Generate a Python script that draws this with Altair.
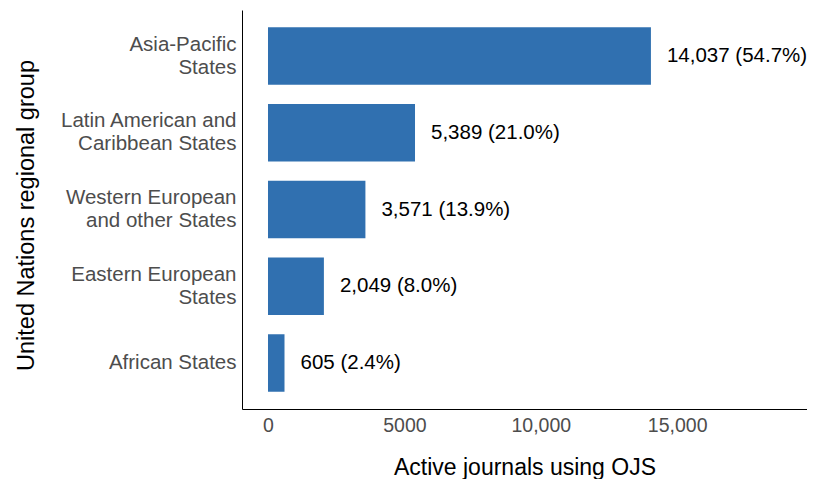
import altair as alt
import pandas as pd

groups = ["Asia-Pacific|States", "Latin American and|Caribbean States",
          "Western European|and other States", "Eastern European|States",
          "African States"]
journals = [14037, 5389, 3571, 2049, 605]
shares = [54.7, 21.0, 13.9, 8.0, 2.4]
x_ticks = [0, 5000, 10000, 15000]

df = pd.DataFrame({
    "group": groups,
    "journals": journals,
    "label": [f"{v:,} ({p:.1f}%)" for v, p in zip(journals, shares)],
})

FONT = "Liberation Sans"

y_enc = alt.Y(
    "group:N", sort=groups,
    scale=alt.Scale(paddingInner=0.25, paddingOuter=0.225),
    axis=alt.Axis(
        title="United Nations regional group",
        labelExpr="split(datum.label, '|')",
        labelOffset={"condition": {"test": "indexof(datum.value, '|') >= 0", "value": -11.5}, "value": 0},
        labelFontSize=20.5, labelColor="#4D4D4D", labelFont=FONT,
        labelLineHeight=23, labelPadding=6, ticks=False,
        titleFontSize=23.5, titleColor="black", titleFont=FONT,
        titleFontWeight="normal", titlePadding=21, titleY=205,
        domainColor="black", domainWidth=1,
    ),
)

x_enc = alt.X(
    "journals:Q",
    scale=alt.Scale(domain=[-953, 19758], nice=False, zero=False),
    axis=alt.Axis(
        title="Active journals using OJS",
        values=x_ticks,
        labelExpr="datum.value == 5000 ? '5000' : format(datum.value, ',')",
        labelFontSize=19.5, labelColor="#4D4D4D", labelFont=FONT,
        labelPadding=7, ticks=False, grid=False,
        titleFontSize=23, titleColor="black", titleFont=FONT,
        titleFontWeight="normal", titlePadding=22,
        domainColor="black", domainWidth=1,
    ),
)

bars = alt.Chart(df).mark_bar(color="#3070B0").encode(
    y=y_enc, x=x_enc, x2=alt.datum(0),
)

text = alt.Chart(df).mark_text(
    align="left", baseline="middle", dx=16, fontSize=20.5, font=FONT, color="black"
).encode(
    y=y_enc, x=x_enc,
    text="label:N",
)

chart = (bars + text).properties(
    width=565, height=399,
    background="white",
    autosize=alt.AutoSizeParams(type="none"),
    padding={"left": 234, "top": 2, "right": 0, "bottom": 70},
).configure_view(strokeWidth=0, stroke="transparent")

chart.save("out.html", embed_options={"renderer": "svg", "actions": False})
